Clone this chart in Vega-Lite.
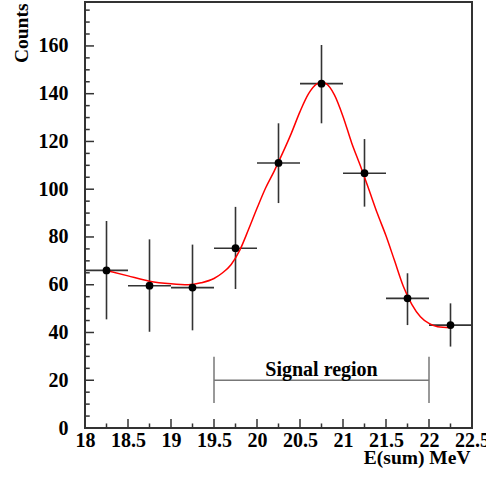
{
  "$schema": "https://vega.github.io/schema/vega-lite/v6.json",
  "width": 387,
  "height": 426,
  "autosize": {"type": "none"},
  "padding": {"left": 85, "top": 2, "right": 14, "bottom": 50},
  "background": "white",
  "config": {
    "view": {"stroke": "#333", "strokeWidth": 2},
    "axis": {
      "zindex": 1,
      "grid": false,
      "domain": false,
      "ticks": false,
      "labelFont": "Liberation Serif",
      "labelFontWeight": "bold",
      "labelFontSize": 20,
      "labelColor": "black",
      "labelOverlap": false,
      "labelFlush": false,
      "titleFont": "Liberation Serif",
      "titleFontWeight": "bold",
      "titleFontSize": 19.5,
      "titleColor": "black"
    }
  },
  "datasets": {
    "points": [
      {"e": 18.25, "counts": 66.0, "lo": 45.5, "hi": 86.7, "elo": 18.0, "ehi": 18.5},
      {"e": 18.75, "counts": 59.6, "lo": 40.3, "hi": 79.0, "elo": 18.5, "ehi": 19.0},
      {"e": 19.25, "counts": 58.8, "lo": 40.9, "hi": 76.8, "elo": 19.0, "ehi": 19.5},
      {"e": 19.75, "counts": 75.3, "lo": 58.2, "hi": 92.6, "elo": 19.5, "ehi": 20.0},
      {"e": 20.25, "counts": 111.0, "lo": 94.2, "hi": 127.6, "elo": 20.0, "ehi": 20.5},
      {"e": 20.75, "counts": 144.2, "lo": 127.6, "hi": 160.4, "elo": 20.5, "ehi": 21.0},
      {"e": 21.25, "counts": 106.7, "lo": 92.7, "hi": 121.0, "elo": 21.0, "ehi": 21.5},
      {"e": 21.75, "counts": 54.3, "lo": 43.1, "hi": 64.8, "elo": 21.5, "ehi": 22.0},
      {"e": 22.25, "counts": 43.1, "lo": 34.1, "hi": 52.2, "elo": 22.0, "ehi": 22.5}
    ],
    "fit": [
      {"e": 18.25, "fit": 66.0},
      {"e": 18.5, "fit": 63.7},
      {"e": 18.75, "fit": 61.5},
      {"e": 19.0, "fit": 60.4},
      {"e": 19.2, "fit": 60.0},
      {"e": 19.35, "fit": 60.8},
      {"e": 19.5, "fit": 62.6},
      {"e": 19.6, "fit": 65.0},
      {"e": 19.7, "fit": 68.5},
      {"e": 19.8, "fit": 74.5},
      {"e": 19.9, "fit": 83.0},
      {"e": 20.0, "fit": 92.0},
      {"e": 20.1, "fit": 100.5},
      {"e": 20.2, "fit": 107.6},
      {"e": 20.3, "fit": 115.3},
      {"e": 20.4, "fit": 123.5},
      {"e": 20.5, "fit": 132.5},
      {"e": 20.6, "fit": 140.0},
      {"e": 20.7, "fit": 144.2},
      {"e": 20.75, "fit": 144.8},
      {"e": 20.8, "fit": 144.3},
      {"e": 20.9, "fit": 139.5},
      {"e": 21.0, "fit": 130.5},
      {"e": 21.1, "fit": 119.5},
      {"e": 21.2, "fit": 110.0},
      {"e": 21.3, "fit": 100.0},
      {"e": 21.4, "fit": 89.8},
      {"e": 21.5, "fit": 80.5},
      {"e": 21.6, "fit": 70.0},
      {"e": 21.7, "fit": 59.5},
      {"e": 21.8, "fit": 51.8},
      {"e": 21.9, "fit": 46.6},
      {"e": 22.0, "fit": 43.8},
      {"e": 22.1, "fit": 42.4},
      {"e": 22.25, "fit": 42.0}
    ],
    "signal": [
      {"e": 19.5, "e2": 22.0, "counts": 20, "label": "Signal region", "mid": 20.75, "ty": 21.8}
    ],
    "ends": [
      {"e": 19.5, "lo": 10.5, "hi": 29.8},
      {"e": 22.0, "lo": 10.5, "hi": 29.8}
    ],
    "xmajor": [{"v": 18.5}, {"v": 19.0}, {"v": 19.5}, {"v": 20.0}, {"v": 20.5}, {"v": 21.0}, {"v": 21.5}, {"v": 22.0}],
    "xminor": [{"v": 18.25}, {"v": 18.75}, {"v": 19.25}, {"v": 19.75}, {"v": 20.25}, {"v": 20.75}, {"v": 21.25}, {"v": 21.75}, {"v": 22.25}],
    "ymajor": [{"v": 20}, {"v": 40}, {"v": 60}, {"v": 80}, {"v": 100}, {"v": 120}, {"v": 140}, {"v": 160}],
    "yminor": [
      {"v": 5}, {"v": 10}, {"v": 15}, {"v": 25}, {"v": 30}, {"v": 35}, {"v": 45}, {"v": 50}, {"v": 55},
      {"v": 65}, {"v": 70}, {"v": 75}, {"v": 85}, {"v": 90}, {"v": 95}, {"v": 105}, {"v": 110}, {"v": 115},
      {"v": 125}, {"v": 130}, {"v": 135}, {"v": 145}, {"v": 150}, {"v": 155}, {"v": 165}, {"v": 170}, {"v": 175}
    ]
  },
  "layer": [
    {
      "data": {"name": "points"},
      "mark": {"type": "rule", "color": "#333", "strokeWidth": 1.6},
      "encoding": {
        "x": {
          "field": "e", "type": "quantitative",
          "scale": {"domain": [18, 22.5], "nice": false, "zero": false},
          "axis": {
            "orient": "bottom",
            "title": "E(sum) MeV",
            "titleAlign": "right",
            "titleBaseline": "alphabetic",
            "titleAngle": 0,
            "titleX": 385,
            "titleY": 35,
            "values": [18, 18.5, 19, 19.5, 20, 20.5, 21, 21.5, 22, 22.5],
            "format": "~g",
            "labelPadding": 2.5
          }
        },
        "y": {
          "field": "lo", "type": "quantitative",
          "scale": {"domain": [0, 178.4], "nice": false},
          "axis": {
            "orient": "left",
            "title": "Counts",
            "titleAlign": "right",
            "titleBaseline": "alphabetic",
            "titleAngle": 270,
            "titleX": -58,
            "titleY": 1,
            "values": [0, 20, 40, 60, 80, 100, 120, 140, 160],
            "format": "d",
            "labelPadding": 17
          }
        },
        "y2": {"field": "hi"}
      }
    },
    {
      "data": {"name": "points"},
      "mark": {"type": "rule", "color": "#333", "strokeWidth": 1.6},
      "encoding": {
        "x": {"field": "elo", "type": "quantitative"},
        "x2": {"field": "ehi"},
        "y": {"field": "counts", "type": "quantitative"}
      }
    },
    {
      "data": {"name": "xmajor"},
      "mark": {"type": "rule", "color": "#333", "strokeWidth": 1.5},
      "encoding": {
        "x": {"field": "v", "type": "quantitative"},
        "y": {"datum": 0, "type": "quantitative"},
        "y2": {"datum": 3.8}
      }
    },
    {
      "data": {"name": "xminor"},
      "mark": {"type": "rule", "color": "#333", "strokeWidth": 1.5},
      "encoding": {
        "x": {"field": "v", "type": "quantitative"},
        "y": {"datum": 0, "type": "quantitative"},
        "y2": {"datum": 1.9}
      }
    },
    {
      "data": {"name": "ymajor"},
      "mark": {"type": "rule", "color": "#333", "strokeWidth": 1.5},
      "encoding": {
        "y": {"field": "v", "type": "quantitative"},
        "x": {"datum": 18, "type": "quantitative"},
        "x2": {"datum": 18.105}
      }
    },
    {
      "data": {"name": "yminor"},
      "mark": {"type": "rule", "color": "#333", "strokeWidth": 1.5},
      "encoding": {
        "y": {"field": "v", "type": "quantitative"},
        "x": {"datum": 18, "type": "quantitative"},
        "x2": {"datum": 18.055}
      }
    },
    {
      "data": {"name": "fit"},
      "mark": {"type": "line", "color": "#ff0000", "strokeWidth": 1.5, "interpolate": "monotone"},
      "encoding": {
        "x": {"field": "e", "type": "quantitative"},
        "y": {"field": "fit", "type": "quantitative"}
      }
    },
    {
      "data": {"name": "points"},
      "mark": {"type": "point", "filled": true, "color": "black", "size": 60, "opacity": 1},
      "encoding": {
        "x": {"field": "e", "type": "quantitative"},
        "y": {"field": "counts", "type": "quantitative"}
      }
    },
    {
      "data": {"name": "signal"},
      "mark": {"type": "rule", "color": "#777", "strokeWidth": 1.5},
      "encoding": {
        "x": {"field": "e", "type": "quantitative"},
        "x2": {"field": "e2"},
        "y": {"field": "counts", "type": "quantitative"}
      }
    },
    {
      "data": {"name": "ends"},
      "mark": {"type": "rule", "color": "#777", "strokeWidth": 1.5},
      "encoding": {
        "x": {"field": "e", "type": "quantitative"},
        "y": {"field": "lo", "type": "quantitative"},
        "y2": {"field": "hi"}
      }
    },
    {
      "data": {"name": "signal"},
      "mark": {"type": "text", "font": "Liberation Serif", "fontWeight": "bold", "fontSize": 20, "color": "black", "align": "center", "baseline": "alphabetic"},
      "encoding": {
        "x": {"field": "mid", "type": "quantitative"},
        "y": {"field": "ty", "type": "quantitative"},
        "text": {"field": "label"}
      }
    }
  ]
}
